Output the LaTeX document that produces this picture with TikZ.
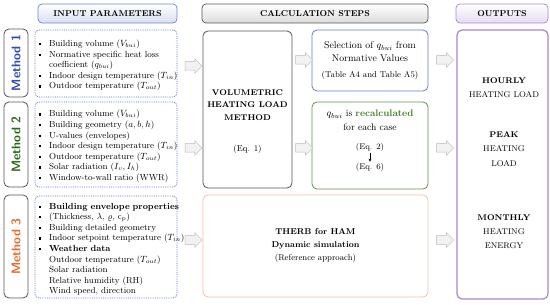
\documentclass[tikz,border=0pt]{standalone}
\usetikzlibrary{shapes.arrows,arrows.meta}
\definecolor{inblue}{HTML}{5B6FD6}
\definecolor{m1col}{HTML}{2F4DB0}
\definecolor{m2col}{HTML}{2E6A1E}
\definecolor{m3col}{HTML}{EC6A2C}
\definecolor{darkb}{HTML}{555555}
\definecolor{selblue}{HTML}{6278DA}
\definecolor{grn}{HTML}{5E9150}
\definecolor{grntxt}{HTML}{3C7D24}
\definecolor{salmon}{HTML}{F6BFA3}
\definecolor{purp}{HTML}{A886D2}
\definecolor{hdrline}{HTML}{6B86CC}
\definecolor{hdrblue}{HTML}{D8DFEF}
\definecolor{hdrpurp}{HTML}{E6DCF2}
\definecolor{hdrgray}{HTML}{DCDCDC}
\newcommand\bul[1]{\par\noindent\makebox[10pt][l]{\raisebox{0.35ex}{\rule{2.2pt}{2.2pt}}}\mbox{#1}}
\newcommand\nob[1]{\par\noindent\hspace*{10pt}\mbox{#1}}
\begin{document}
\begin{tikzpicture}[x=1pt,y=-1pt,
 every node/.style={inner sep=0pt, font=\fontsize{8.8}{10.6}\selectfont},
 hdr/.style={draw, rounded corners=4pt, line width=0.7pt, minimum height=19pt, font=\bfseries\fontsize{8.5}{10}\selectfont},
 mlab/.style={draw=darkb, rounded corners=5pt, line width=0.8pt, fill=white, minimum width=24pt, font=\sffamily\bfseries\fontsize{12.5}{13}\selectfont},
 inbox/.style={draw=inblue, densely dotted, line width=0.8pt, rounded corners=4pt, text width=134pt, inner xsep=4pt, align=left},
 cbox/.style={draw, rounded corners=5pt, line width=0.8pt, align=center},
 outtxt/.style={align=center, font=\fontsize{8.3}{14.3}\selectfont},
 barrow/.style={single arrow, draw=gray!55, fill=gray!10, line width=0.5pt, minimum height=17pt, inner sep=4pt, single arrow head extend=3pt},
]
\useasboundingbox (0,0) rectangle (550,305);

% headers
\node[hdr, draw=hdrline, top color=white, bottom color=hdrblue, minimum width=139pt] (hin) at (107.5,13.5) {INPUT PARAMETERS};
\node[hdr, draw=darkb, top color=white, bottom color=hdrgray, minimum width=226pt] (hcalc) at (315,13.5) {CALCULATION STEPS};
\node[hdr, draw=purp, top color=white, bottom color=hdrpurp, minimum width=92pt] (hout) at (502,13.5) {OUTPUTS};

% method labels
\node[mlab, text=m1col, minimum height=68pt] (m1) at (16,63) {\rotatebox{90}{Method 1}};
\node[mlab, text=m2col, minimum height=85pt] (m2) at (16,144.5) {\rotatebox{90}{Method 2}};
\node[mlab, text=m3col, minimum height=103pt] (m3) at (16,246.5) {\rotatebox{90}{Method 3}};

% input boxes
\node[inbox, minimum height=67pt] (in1) at (106,63.5) {%
\bul{Building volume ($V_{bui}$)}
\bul{\makebox[124pt][s]{Normative specific heat loss}}
\nob{coefficient ($q_{bui}$)}
\bul{Indoor design temperature ($T_{in}$)}
\bul{Outdoor temperature ($T_{out}$)}};

\node[inbox, minimum height=85pt] (in2) at (106,144.5) {%
\bul{Building volume ($V_{bui}$)}
\bul{Building geometry ($a, b, h$)}
\bul{U-values (envelopes)}
\bul{Indoor design temperature ($T_{in}$)}
\bul{Outdoor temperature ($T_{out}$)}
\bul{Solar radiation ($I_v, I_h$)}
\bul{Window-to-wall ratio (WWR)}};

\node[inbox, minimum height=102pt] (in3) at (106,247) {%
\bul{\textbf{Building envelope properties}}
\bul{(Thickness, $\lambda$, $\varrho$, c$_\mathrm{p}$)}
\bul{Building detailed geometry}
\bul{Indoor setpoint temperature ($T_{in}$)}
\bul{\textbf{Weather data}}
\nob{Outdoor temperature ($T_{out}$)}
\nob{Solar radiation}
\nob{Relative humidity (RH)}
\nob{Wind speed, direction}};

% calculation boxes
\node[cbox, draw=darkb, minimum width=89pt, minimum height=157pt] (vol) at (247.5,109.5) {};
\node[align=center, font=\bfseries\fontsize{8.3}{12.5}\selectfont] (volt) at (247.5,121.5) {VOLUMETRIC\\HEATING LOAD\\METHOD\\[19pt]\mdseries\fontsize{8.6}{12.5}\selectfont (Eq. 1)};

\node[cbox, draw=selblue, minimum width=116pt, minimum height=61pt, font=\fontsize{9.8}{12.8}\selectfont] (sel) at (370,60.5) {Selection of $q_{bui}$ from\\Normative Values\\[3pt]{\fontsize{8.5}{9}\selectfont(Table A4 and Table A5)}};

\node[cbox, draw=grn, minimum width=116pt, minimum height=87pt] (grnbox) at (370,145.5) {};
\node[align=center, font=\fontsize{9.6}{13.5}\selectfont] (gtxt) at (370,120) {$q_{bui}$ is \textcolor{grntxt}{\textbf{recalculated}}\\for each case};
\node[font=\fontsize{8.3}{10}\selectfont] (eq2) at (370,147) {(Eq. 2)};
\node[font=\fontsize{8.3}{10}\selectfont] (eq6) at (370,167) {(Eq. 6)};
\draw[-{Stealth[length=3pt,width=3pt]}, line width=0.6pt, shorten <=2pt, shorten >=1pt] (eq2) -- (eq6);

\node[cbox, draw=salmon, minimum width=225pt, minimum height=102pt, font=\fontsize{8.5}{13}\selectfont] (therb) at (315.5,246) {\textbf{THERB for HAM}\\\textbf{Dynamic simulation}\\(Reference approach)};

% outputs
\node[cbox, draw=purp, line width=1.2pt, minimum width=91pt, minimum height=269pt] (outbox) at (502.5,164.5) {};
\node[outtxt] (o1) at (504,87.5) {\textbf{HOURLY}\\HEATING LOAD};
\node[outtxt] (o2) at (504,149) {\textbf{PEAK}\\HEATING\\LOAD};
\node[outtxt] (o3) at (504,231.5) {\textbf{MONTHLY}\\HEATING\\ENERGY};

% block arrows
\node[barrow] (a1) at (191.5,66) {};
\node[barrow] (a2) at (191.5,148) {};
\node[barrow] (a3) at (191.5,240) {};
\node[barrow] (a4) at (302,60) {};
\node[barrow] (a5) at (302,148) {};
\node[barrow] (a6) at (443,60) {};
\node[barrow] (a7) at (443,148) {};
\node[barrow] (a8) at (443,240) {};
\end{tikzpicture}
\end{document}
